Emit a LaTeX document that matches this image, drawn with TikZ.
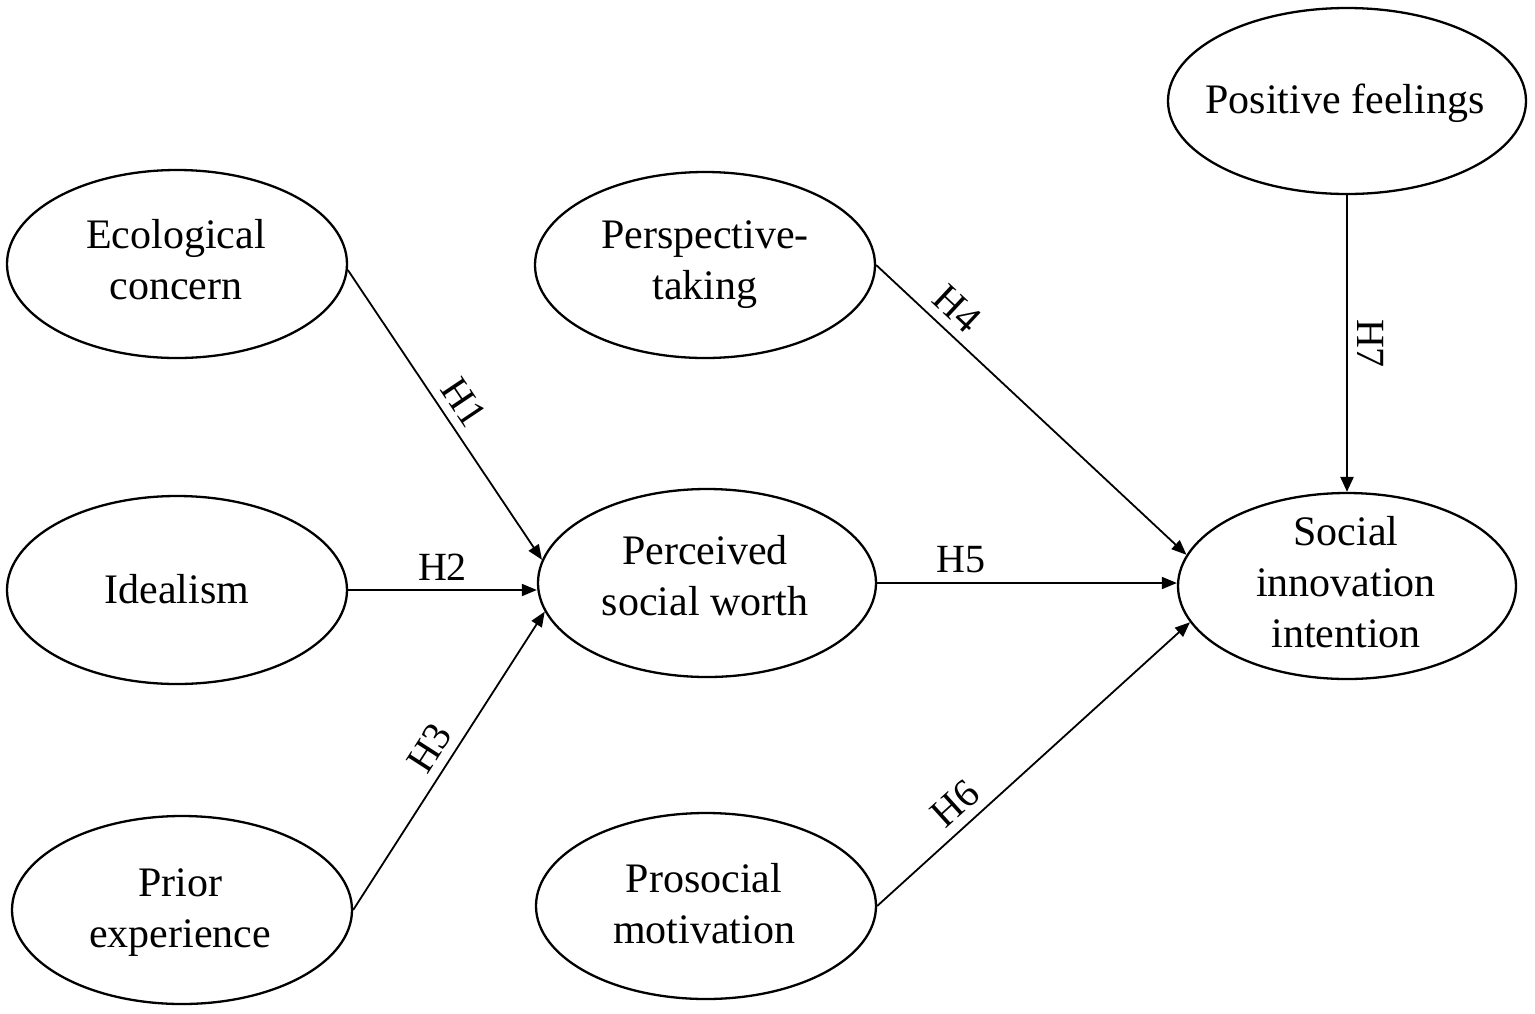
\documentclass[tikz,border=0pt]{standalone}
\usepackage{fontspec}
\setmainfont{Liberation Serif}
\usetikzlibrary{shapes.geometric,arrows.meta}
\begin{document}
\begin{tikzpicture}[x=1pt,y=-1pt,
  latent/.style={draw=black, line width=2.3pt, ellipse, inner sep=0pt},
  lbl/.style={font=\fontsize{42}{51}\selectfont, align=center, inner sep=0pt},
  hyp/.style={font=\fontsize{40}{48}\selectfont, inner xsep=2pt, inner ysep=9pt},
  arr/.style={line width=1.8pt, -{Triangle[length=15pt,width=12pt]}},
  arrv/.style={line width=2.4pt, -{Triangle[length=15pt,width=13pt]}}
]
\useasboundingbox (0,0) rectangle (1535,1013);

% ellipses
\node[latent, minimum width=340pt, minimum height=188pt] (eco) at (177,264) {};
\node[latent, minimum width=340pt, minimum height=188pt] (ide) at (177,590) {};
\node[latent, minimum width=340pt, minimum height=188pt] (pri) at (182,910) {};
\node[latent, minimum width=340pt, minimum height=186pt] (per) at (705,265) {};
\node[latent, minimum width=338pt, minimum height=188pt] (psw) at (707,583) {};
\node[latent, minimum width=340pt, minimum height=186pt] (pro) at (706,906) {};
\node[latent, minimum width=358pt, minimum height=186pt] (pos) at (1347,101) {};
\node[latent, minimum width=338pt, minimum height=186pt] (sii) at (1347,586) {};

% texts
\node[lbl] (eco-t) at (176,260) {Ecological\\concern};
\node[lbl] (ide-t) at (177,589) {Idealism};
\node[lbl] (pri-t) at (180,913) {Prior\\experience};
\node[lbl] (per-t) at (705,265) {Perspective-\\taking};
\node[lbl] (psw-t) at (705,576) {Perceived\\social worth};
\node[lbl] (pro-t) at (704,904) {Prosocial\\motivation};
\node[lbl] (sii-t) at (1346,582) {Social\\innovation\\intention};
\node[lbl] (pos-t) at (1345,103.5) {Positive feelings};

% connectors
\draw[arr] (eco.-2) -- node[hyp, sloped, above, pos=0.5] (h1) {H1} (psw.172);
\draw[arr] (ide.east) -- node[hyp, above, pos=0.5] (h2) {H2} (ide.east -| psw.west);
\draw[arr] (pri.east) -- node[hyp, sloped, above, pos=0.5] (h3) {H3} (psw.190);
\draw[arr] (per.east) -- node[hyp, sloped, above, pos=0.21] (h4) {H4} (sii.169);
\draw[arr] (psw.east) -- node[hyp, above, pos=0.28] (h5) {H5} (psw.east -| sii.west);
\draw[arr] (pro.east) -- node[hyp, sloped, above, pos=0.30] (h6) {H6} (sii.193);
\draw[arrv] (pos.south) -- node[hyp, rotate=-90, anchor=south, pos=0.5] (h7) {H7} (sii.north);
\end{tikzpicture}
\end{document}
